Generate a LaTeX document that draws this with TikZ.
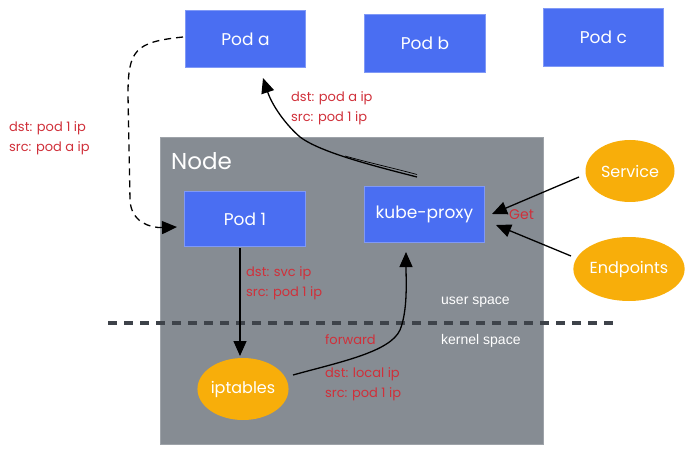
\documentclass[tikz,border=0pt]{standalone}
\usepackage{fontspec}
\setmainfont{Poppins}
\newfontfamily\plainsans{Liberation Sans}
\usetikzlibrary{shapes.geometric,arrows.meta}
\definecolor{podblue}{HTML}{4A6EF2}
\definecolor{nodegray}{HTML}{868C93}
\definecolor{svcorange}{HTML}{F8AE0A}
\definecolor{labelred}{HTML}{D0303A}
\definecolor{dashgray}{HTML}{3E434A}
\tikzset{
  podbox/.style={fill=podblue, draw=podblue!70!white, line width=0.8pt, text=white, font=\fontsize{17}{19}\selectfont, inner sep=0pt},
  blob/.style={ellipse, fill=svcorange, draw=none, text=white, font=\fontsize{16}{18}\selectfont, inner sep=0pt},
  redlbl/.style={text=labelred, font=\fontsize{13}{20}\selectfont, align=left, anchor=west, inner sep=0pt},
  spacelbl/.style={text=white, font=\plainsans\fontsize{14}{16}\selectfont, anchor=west, inner sep=0pt},
  flow/.style={draw=black, line width=1.3pt, -{Triangle[length=15pt,width=13pt]}},
}
\begin{document}
\begin{tikzpicture}[x=1pt,y=-1pt]
\useasboundingbox (0,0) rectangle (692,454);
% Node background
\node[fill=nodegray, draw=nodegray!80!white, minimum width=383pt, minimum height=307pt, inner sep=0pt, anchor=north west] (node) at (160,137) {};
\node[text=white, font=\fontsize{23}{26}\selectfont, anchor=west, inner sep=0pt] (nodelbl) at (171,161) {Node};
% pods
\node[podbox, minimum width=120pt, minimum height=57pt, anchor=north west] (poda) at (185,10) {Pod a};
\node[podbox, minimum width=121pt, minimum height=58pt, anchor=north west] (podb) at (364,14) {Pod b};
\node[podbox, minimum width=120pt, minimum height=58pt, anchor=north west] (podc) at (543,8) {Pod c};
\node[podbox, minimum width=121pt, minimum height=55pt, anchor=north west] (pod1) at (184,191) {Pod 1};
\node[podbox, minimum width=120pt, minimum height=56pt, anchor=north west] (kp) at (364,186) {kube-proxy};
% blobs
\node[blob, minimum width=89pt, minimum height=62pt] (svc) at (630,171) {Service};
\node[blob, minimum width=106pt, minimum height=64pt] (ep) at (629,269) {Endpoints};
\node[blob, minimum width=90pt, minimum height=62pt] (ipt) at (243,389) {iptables};
% divider
\coordinate (divL) at (108,323);
\coordinate (divR) at (615,323);
\draw[dashgray, line width=3.2pt, dash pattern=on 9pt off 7pt] (divL) -- (divR);
\node[spacelbl] (us) at (441,302) {user space};
\node[spacelbl] (ks) at (441,341) {kernel space};
% red labels
\node[redlbl] (l1) at (9,138) {dst: pod 1 ip\\src: pod a ip};
\node[redlbl] (l2) at (291,108) {dst: pod a ip\\src: pod 1 ip};
\node[redlbl] (l3) at (246,283) {dst: svc ip\\src: pod 1 ip};
\node[redlbl] (l4) at (325,340) {forward};
\node[redlbl] (l5) at (325,384) {dst: local ip\\src: pod 1 ip};
\node[redlbl, font=\fontsize{14}{16}\selectfont] (l6) at (509,215) {Get};
% connector ends
\coordinate (dA) at (183,37);
\coordinate (d1) at (177,227);
\coordinate (p1s) at (240,248);
\coordinate (iptn) at (240,356);
\coordinate (ipte) at (293,375);
\coordinate (kps) at (406,252);
\coordinate (kpn) at (417,177);
\coordinate (kpn2) at (417,174.5);
\coordinate (mid2) at (345,156);
\coordinate (pas) at (263,78);
\coordinate (svw) at (579,177);
\coordinate (kpe1) at (492,214);
\coordinate (epw) at (571,256);
\coordinate (kpe2) at (496,225);
% connectors
\draw[flow, dash pattern=on 7pt off 5pt] (dA) .. controls (135,42) and (128,50) .. (128,95)
  -- (130,200) .. controls (131,222) and (150,228) .. (d1);
\draw[flow] (p1s) -- (iptn);
\draw[flow] (ipte) .. controls (340,362) and (390,352) .. (400,330) .. controls (408,310) and (406,280) .. (kps);
\draw[flow] (kpn) .. controls (370,165) and (320,152) .. (300,137) .. controls (285,124) and (272,105) .. (pas);
\draw[black, line width=0.7pt] (kpn2) .. controls (395,168.5) and (370,163) .. (mid2);
\draw[flow] (svw) -- (kpe1);
\draw[flow] (epw) -- (kpe2);
\end{tikzpicture}
\end{document}
